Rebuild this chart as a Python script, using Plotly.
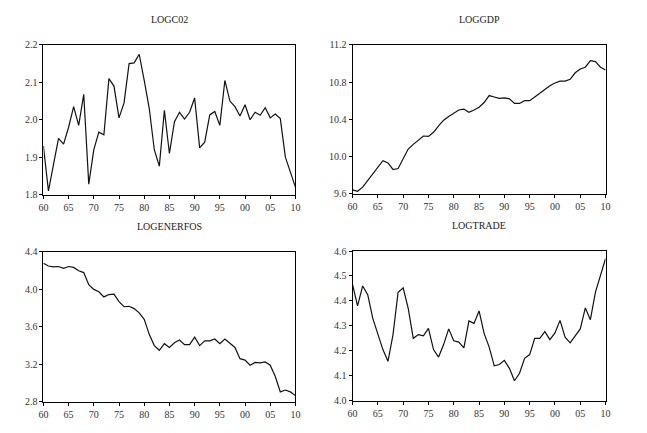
import plotly.graph_objects as go

years = list(range(1960, 2011))

logco2 = [1.93, 1.81, 1.88, 1.95, 1.935, 1.98, 2.035, 1.985, 2.068, 1.828,
          1.92, 1.967, 1.96, 2.11, 2.09, 2.005, 2.045, 2.15, 2.152, 2.175,
          2.105, 2.03, 1.92, 1.876, 2.025, 1.91, 1.995, 2.02, 2.002, 2.02,
          2.058, 1.925, 1.94, 2.013, 2.022, 1.985, 2.105, 2.05, 2.035, 2.01,
          2.04, 2.0, 2.02, 2.012, 2.032, 2.005, 2.015, 2.003, 1.9, 1.86, 1.82]

loggdp = [9.64, 9.625, 9.67, 9.74, 9.82, 9.88, 9.955, 9.93, 9.86, 9.87,
          9.97, 10.08, 10.13, 10.18, 10.22, 10.215, 10.26, 10.33, 10.39, 10.43,
          10.47, 10.5, 10.51, 10.475, 10.5, 10.53, 10.58, 10.655, 10.64, 10.625,
          10.63, 10.62, 10.57, 10.57, 10.6, 10.6, 10.64, 10.68, 10.73, 10.76,
          10.79, 10.81, 10.81, 10.83, 10.9, 10.94, 10.96, 11.03, 11.02, 10.96, 10.93]

logenerfos = [4.28, 4.25, 4.24, 4.245, 4.225, 4.245, 4.235, 4.2, 4.18, 4.05,
              4.0, 3.975, 3.92, 3.945, 3.95, 3.87, 3.815, 3.82, 3.795, 3.75,
              3.68, 3.52, 3.4, 3.35, 3.42, 3.38, 3.43, 3.46, 3.41, 3.41,
              3.49, 3.4, 3.45, 3.45, 3.47, 3.42, 3.47, 3.43, 3.38, 3.26,
              3.245, 3.19, 3.22, 3.215, 3.225, 3.19, 3.07, 2.905, 2.925, 2.905, 2.865]

logtrade = [4.465, 4.38, 4.46, 4.425, 4.33, 4.27, 4.205, 4.158, 4.265, 4.435,
            4.452, 4.37, 4.25, 4.265, 4.26, 4.29, 4.205, 4.175, 4.225, 4.288,
            4.24, 4.235, 4.212, 4.32, 4.31, 4.36, 4.27, 4.215, 4.14, 4.145,
            4.162, 4.13, 4.08, 4.11, 4.17, 4.185, 4.25, 4.25, 4.277, 4.245,
            4.272, 4.322, 4.255, 4.232, 4.258, 4.288, 4.372, 4.325, 4.435, 4.505, 4.57]

titles = ["LOGC02", "LOGGDP", "LOGENERFOS", "LOGTRADE"]
xtick_vals = list(range(1960, 2011, 5))
xtick_text = ["60", "65", "70", "75", "80", "85", "90", "95", "00", "05", "10"]

y_ranges = [[1.8, 2.2], [9.6, 11.2], [2.8, 4.4], [4.0, 4.6]]
y_ticks = [[1.8, 1.9, 2.0, 2.1, 2.2], [9.6, 10.0, 10.4, 10.8, 11.2],
           [2.8, 3.2, 3.6, 4.0, 4.4], [4.0, 4.1, 4.2, 4.3, 4.4, 4.5, 4.6]]

W, H = 647, 433
# pixel boxes (x0, x1, ytop, ybottom)
boxes = [(39, 295, 40, 194), (353, 610, 40, 193), (39, 295, 253, 407), (353, 610, 252, 406)]

fig = go.Figure()
series = [logco2, loggdp, logenerfos, logtrade]
font = dict(family="Liberation Serif", size=10, color="#333333")

layout = dict(width=W, height=H, margin=dict(l=0, r=0, t=0, b=0),
              paper_bgcolor="white", plot_bgcolor="white", showlegend=False,
              font=font, annotations=[])

for i, (s, box) in enumerate(zip(series, boxes)):
    n = "" if i == 0 else str(i + 1)
    fig.add_trace(go.Scatter(x=years, y=s, mode="lines",
                             line=dict(color="#111111", width=1.2),
                             xaxis="x" + n, yaxis="y" + n))
    x0, x1, yt, yb = box
    layout["xaxis" + n] = dict(domain=[x0 / W, x1 / W], anchor="y" + n,
                               range=[1960, 2010], tickvals=xtick_vals, ticktext=xtick_text,
                               showgrid=False, zeroline=False, showline=True, mirror=True,
                               linecolor="black", linewidth=1, ticks="outside", ticklen=3,
                               tickcolor="black", tickfont=font)
    yd = ["%.1f" % v for v in y_ticks[i]]
    layout["yaxis" + n] = dict(domain=[(H - yb) / H, (H - yt) / H], anchor="x" + n,
                               range=y_ranges[i], tickvals=y_ticks[i], ticktext=yd,
                               showgrid=False, zeroline=False, showline=True, mirror=True,
                               linecolor="black", linewidth=1, ticks="outside", ticklen=3,
                               tickcolor="black", tickfont=font)
    layout["annotations"].append(dict(text=titles[i], x=(x0 + x1) / 2 / W, y=(H - (yt - 26)) / H,
                                      xref="paper", yref="paper", showarrow=False,
                                      font=dict(family="Liberation Serif", size=10, color="#222222"),
                                      xanchor="center", yanchor="middle"))

fig.update_layout(**layout)
fig.write_html("out.html", config={"displayModeBar": False},
               post_script="document.body.style.margin='0';document.body.style.overflow='hidden';")
